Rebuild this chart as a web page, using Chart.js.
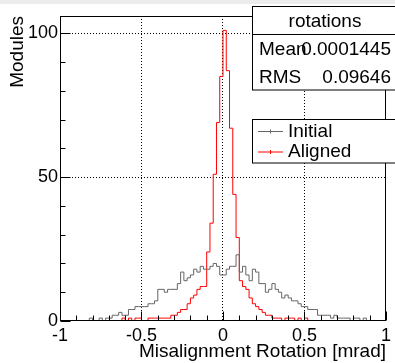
<!DOCTYPE html>
<html>
<head>
<meta charset="utf-8">
<script src="https://cdn.jsdelivr.net/npm/chart.js@4.4.0/dist/chart.umd.min.js"></script>
<style>
  html, body { margin: 0; padding: 0; background: #fff; }
</style>
</head>
<body>
<canvas id="rotChart" width="395" height="363"></canvas>
<script>
// 100 bins, -1 .. 1 mrad
const xMin = -1;
const xMax = 1;
const yMax = 106;

const initialCounts = [
    0, 0, 0, 0, 0, 0, 0, 0, 0, 1,
    0, 0, 1, 0, 1, 1, 2, 2, 3, 2,
    2, 4, 4, 5, 5, 5, 5, 6, 6, 7,
    11, 11, 10, 11, 11, 11, 13, 17, 14, 15,
    16, 18, 17, 19, 18, 18, 19, 20, 19, 16,
    16, 18, 19, 19, 23, 17, 19, 16, 14, 18,
    17, 13, 13, 10, 11, 13, 11, 10, 8, 9,
    8, 7, 7, 6, 5, 5, 4, 4, 4, 2,
    2, 2, 2, 1, 2, 1, 1, 1, 1, 0,
    1, 1, 0, 1, 0, 0, 0, 0, 0, 0
];

const alignedCounts = [
    0, 0, 0, 0, 0, 0, 0, 0, 0, 0,
    0, 0, 0, 0, 0, 0, 0, 0, 0, 1,
    0, 1, 0, 1, 1, 0, 0, 1, 1, 1,
    1, 1, 1, 1, 2, 2, 3, 4, 4, 6,
    8, 9, 11, 12, 12, 24, 34, 51, 69, 85,
    101, 87, 67, 44, 29, 14, 12, 11, 8, 6,
    5, 4, 3, 2, 2, 1, 1, 1, 0, 1,
    1, 1, 0, 1, 0, 1, 0, 0, 0, 0,
    0, 0, 0, 0, 0, 0, 0, 0, 0, 0,
    0, 0, 0, 0, 0, 0, 0, 0, 0, 0
];

const seriesNames = ['Initial', 'Aligned'];
const xTickValues = [-1, -0.5, 0, 0.5, 1];
const xTickLabels = ['-1', '-0.5', '0', '0.5', '1'];
const yTickValues = [0, 50, 100];
const yTickLabels = ['0', '50', '100'];
const statsTitle = 'rotations';
const statsNames = ['Mean', 'RMS'];
const statsValues = ['0.0001445', '0.09646'];

const FONT = '"Liberation Sans", Arial, Helvetica, sans-serif';

// bin counts -> step points at the lower bin edges
function toSteps(counts) {
    const w = (xMax - xMin) / counts.length;
    const pts = counts.map((c, i) => ({ x: xMin + i * w, y: c }));
    pts.push({ x: xMax, y: counts[counts.length - 1] });
    return pts;
}

const dotted = (edges) => (ctx) => {
    const v = ctx.tick ? ctx.tick.value : null;
    return (v === null || edges.includes(v)) ? 'rgba(0,0,0,0)' : '#000';
};

const rootFrame = {
    id: 'rootFrame',
    beforeDraw(chart) {
        const c = chart.ctx;
        c.save();
        c.fillStyle = '#fff';
        c.fillRect(0, 0, chart.width, chart.height);
        c.fillStyle = '#ececec';
        c.fillRect(0, 0, chart.width, 4);
        c.restore();
    },
    afterDraw(chart) {
        const c = chart.ctx;
        const a = chart.chartArea;
        const xs = chart.scales.x;
        const ys = chart.scales.y;
        c.save();
        c.strokeStyle = '#000';
        c.lineWidth = 1;
        const L = Math.round(a.left) + 0.5, R = Math.round(a.right) - 0.5;
        const T = Math.round(a.top) + 0.5, B = Math.round(a.bottom) - 0.5;
        c.strokeRect(L, T, R - L, B - T);

        // inner tick marks
        c.beginPath();
        for (let v = 0; v <= 100; v += 10) {
            const y = Math.round(ys.getPixelForValue(v)) + 0.5;
            const len = v % 50 === 0 ? 10 : 5;
            c.moveTo(L, y);
            c.lineTo(L + len, y);
        }
        for (let i = -10; i <= 10; i++) {
            const x = Math.round(xs.getPixelForValue(i / 10)) + 0.5;
            const len = i % 5 === 0 ? 9 : 5;
            c.moveTo(x, B);
            c.lineTo(x, B - len);
        }
        c.stroke();

        // stats box
        c.fillStyle = '#fff';
        c.fillRect(252.5, 6.5, 150, 83.5);
        c.strokeRect(252.5, 6.5, 150, 83.5);
        c.beginPath();
        c.moveTo(252.5, 34.5);
        c.lineTo(402, 34.5);
        c.stroke();
        c.fillStyle = '#000';
        c.font = '19px ' + FONT;
        c.textBaseline = 'middle';
        c.textAlign = 'center';
        c.fillText(statsTitle, 325, 21.5);
        statsNames.forEach((name, i) => {
            const y = 49.5 + i * 28.5;
            c.textAlign = 'left';
            c.fillText(name, 259, y);
            c.textAlign = 'right';
            c.fillText(statsValues[i], 391, y);
        });

        // legend box
        c.fillStyle = '#fff';
        c.fillRect(252.5, 119.5, 150, 43.5);
        c.strokeRect(252.5, 119.5, 150, 43.5);
        chart.data.datasets.forEach((ds, i) => {
            const y = 131.5 + i * 20.5;
            c.strokeStyle = ds.borderColor;
            c.beginPath();
            c.moveTo(258, y);
            c.lineTo(283, y);
            c.moveTo(270.5, y - 2);
            c.lineTo(270.5, y + 2);
            c.stroke();
            c.fillStyle = '#000';
            c.textAlign = 'left';
            c.fillText(ds.label, 288, y);
        });
        c.restore();
    }
};

new Chart(document.getElementById('rotChart'), {
    type: 'line',
    data: {
        datasets: [
            {
                label: seriesNames[0],
                data: toSteps(initialCounts),
                borderColor: '#666666',
                borderWidth: 1,
                stepped: true,
                pointRadius: 0,
                fill: false
            },
            {
                label: seriesNames[1],
                data: toSteps(alignedCounts),
                borderColor: '#ff0000',
                borderWidth: 1,
                stepped: true,
                pointRadius: 0,
                fill: false
            }
        ]
    },
    options: {
        responsive: false,
        animation: false,
        devicePixelRatio: 1,
        layout: { padding: { top: 16, right: 8, left: 0, bottom: 0 } },
        plugins: {
            legend: { display: false },
            tooltip: { enabled: false }
        },
        scales: {
            x: {
                type: 'linear',
                min: xMin,
                max: xMax,
                afterBuildTicks: (s) => { s.ticks = xTickValues.map(v => ({ value: v })); },
                afterFit: (s) => { s.height = 42; },
                ticks: {
                    autoSkip: false,
                    maxRotation: 0,
                    padding: 4,
                    color: '#000',
                    font: { family: FONT, size: 18 },
                    callback: (v) => xTickLabels[xTickValues.indexOf(v)]
                },
                grid: { color: dotted([xMin, xMax]), drawTicks: false, lineWidth: 1 },
                border: { display: false, dash: [1, 2] },
                title: {
                    display: true,
                    text: 'Misalignment Rotation [mrad]',
                    align: 'end',
                    color: '#000',
                    font: { family: FONT, size: 19 },
                    padding: { top: 0, bottom: 0 }
                }
            },
            y: {
                min: 0,
                max: yMax,
                afterBuildTicks: (s) => { s.ticks = yTickValues.map(v => ({ value: v })); },
                afterFit: (s) => { s.width = 60; },
                ticks: {
                    padding: 2,
                    color: '#000',
                    font: { family: FONT, size: 18 },
                    callback: (v) => yTickLabels[yTickValues.indexOf(v)]
                },
                grid: { color: dotted([0]), drawTicks: false, lineWidth: 1 },
                border: { display: false, dash: [1, 2] },
                title: {
                    display: true,
                    text: 'Modules',
                    align: 'end',
                    color: '#000',
                    font: { family: FONT, size: 19 },
                    padding: { top: 6, bottom: 0 }
                }
            }
        }
    },
    plugins: [rootFrame]
});
</script>
</body>
</html>
